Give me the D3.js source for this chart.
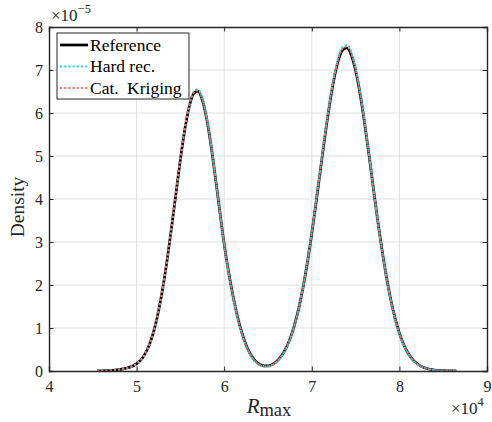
<!DOCTYPE html>
<html><head><meta charset="utf-8">
<script src="https://cdn.jsdelivr.net/npm/d3@7"></script>
<style>body{margin:0;background:#fff}</style>
</head><body><svg id="c" width="492" height="422"></svg>
<script>
// x in units of 1e4, density in units of 1e-5
const xVals = [4.55,4.60,4.65,4.70,4.75,4.80,4.85,4.90,4.95,5.00,
5.05,5.10,5.15,5.20,5.25,5.30,5.35,5.40,5.45,5.50,
5.55,5.60,5.65,5.70,5.75,5.80,5.85,5.90,5.95,6.00,
6.05,6.10,6.15,6.20,6.25,6.30,6.35,6.40,6.45,6.50,
6.55,6.60,6.65,6.70,6.75,6.80,6.85,6.90,6.95,7.00,
7.05,7.10,7.15,7.20,7.25,7.30,7.35,7.40,7.45,7.50,
7.55,7.60,7.65,7.70,7.75,7.80,7.85,7.90,7.95,8.00,
8.05,8.10,8.15,8.20,8.25,8.30,8.35,8.40,8.45,8.50,
8.55,8.60,8.65];
const refVals = [0.002,0.004,0.007,0.012,0.020,0.033,0.050,0.075,0.110,0.170,
0.260,0.410,0.635,0.956,1.390,1.941,2.602,3.351,4.142,4.921,
5.610,6.140,6.452,6.510,6.306,5.866,5.240,4.492,3.710,2.950,
2.300,1.750,1.280,0.902,0.605,0.389,0.246,0.159,0.120,0.119,
0.155,0.228,0.342,0.510,0.741,1.052,1.450,1.942,2.528,3.199,
3.932,4.700,5.456,6.159,6.756,7.202,7.461,7.512,7.351,6.991,
6.461,5.806,5.070,4.296,3.533,2.834,2.211,1.673,1.229,0.880,
0.611,0.412,0.270,0.173,0.107,0.066,0.040,0.024,0.014,0.008,
0.005,0.003,0.002];
const hardVals = [0.001,0.003,0.006,0.011,0.019,0.031,0.048,0.073,0.108,0.166,
0.256,0.402,0.628,0.950,1.385,1.938,2.604,3.360,4.158,4.942,
5.636,6.170,6.490,6.550,6.340,5.890,5.255,4.498,3.708,2.940,
2.285,1.732,1.262,0.886,0.590,0.374,0.232,0.145,0.105,0.104,
0.140,0.214,0.330,0.500,0.734,1.048,1.450,1.948,2.540,3.218,
3.958,4.734,5.498,6.208,6.812,7.266,7.532,7.590,7.420,7.048,
6.502,5.834,5.086,4.302,3.530,2.826,2.200,1.660,1.216,0.868,
0.600,0.403,0.263,0.168,0.103,0.063,0.038,0.023,0.013,0.007,
0.004,0.002,0.001];
const krigVals = [0.002,0.004,0.007,0.012,0.020,0.032,0.049,0.074,0.109,0.168,
0.258,0.406,0.631,0.952,1.387,1.939,2.602,3.354,4.148,4.930,
5.622,6.154,6.470,6.528,6.322,5.878,5.248,4.494,3.708,2.945,
2.292,1.741,1.271,0.894,0.598,0.382,0.240,0.152,0.113,0.112,
0.148,0.221,0.336,0.505,0.738,1.050,1.450,1.945,2.534,3.208,
3.945,4.716,5.476,6.182,6.782,7.232,7.494,7.548,7.384,7.018,
6.480,5.818,5.076,4.298,3.532,2.830,2.206,1.667,1.223,0.874,
0.606,0.408,0.267,0.171,0.105,0.065,0.039,0.024,0.014,0.008,
0.005,0.003,0.002];
const xTicks = [4,5,6,7,8,9];
const yTicks = [0,1,2,3,4,5,6,7,8];
const seriesNames = ["Reference","Hard rec.","Cat. Kriging"];

const FONT = "'Liberation Serif', 'Times New Roman', serif";
const svg = d3.select("#c");
const L = 49, R = 487, T = 27, B = 371;
const x = d3.scaleLinear().domain([4, 9]).range([L, R]);
const y = d3.scaleLinear().domain([0, 8]).range([B, T]);
const axisColor = "#262626";

// grid
const g = svg.append("g");
g.selectAll(".gx").data(xTicks.slice(1, -1)).enter().append("line")
  .attr("x1", d => x(d)).attr("x2", d => x(d)).attr("y1", T).attr("y2", B)
  .attr("stroke", "#dfdfdf").attr("stroke-width", 1);
g.selectAll(".gy").data(yTicks.slice(1, -1)).enter().append("line")
  .attr("y1", d => y(d)).attr("y2", d => y(d)).attr("x1", L).attr("x2", R)
  .attr("stroke", "#dfdfdf").attr("stroke-width", 1);

// curves
svg.append("defs").append("clipPath").attr("id", "clip")
  .append("rect").attr("x", L).attr("y", T).attr("width", R - L).attr("height", B - T);
const line = vals => d3.line().x((d, i) => x(xVals[i])).y(d => y(d)).curve(d3.curveMonotoneX)(vals);
const series = [
  {name: seriesNames[0], vals: refVals, color: "#000000", width: 2.7, dash: null},
  {name: seriesNames[1], vals: hardVals, color: "#1fd6d6", width: 2, dash: "2,2.2"},
  {name: seriesNames[2], vals: krigVals, color: "#ff6f6f", width: 2, dash: "2,2.2"}
];
const cg = svg.append("g").attr("clip-path", "url(#clip)");
series.forEach(s => {
  cg.append("path").attr("d", line(s.vals)).attr("fill", "none")
    .attr("stroke", s.color).attr("stroke-width", s.width)
    .attr("stroke-dasharray", s.dash);
});

// axes with inward ticks
const ax = svg.append("g");
const tickLen = 4.5;
const xAxisB = d3.axisBottom(x).tickValues(xTicks).tickSize(-tickLen).tickPadding(10).tickFormat(d3.format("d"));
const xAxisT = d3.axisTop(x).tickValues(xTicks).tickSize(-tickLen).tickFormat("");
const yAxisL = d3.axisLeft(y).tickValues(yTicks).tickSize(-tickLen).tickPadding(6).tickFormat(d3.format("d"));
const yAxisR = d3.axisRight(y).tickValues(yTicks).tickSize(-tickLen).tickFormat("");
[[xAxisB, `translate(0,${B})`], [xAxisT, `translate(0,${T})`], [yAxisL, `translate(${L},0)`], [yAxisR, `translate(${R},0)`]]
  .forEach(([a, tr]) => {
    const gg = ax.append("g").attr("transform", tr).call(a);
    gg.select(".domain").attr("stroke", axisColor).attr("stroke-width", 1.4);
    gg.selectAll(".tick line").attr("stroke", axisColor).attr("stroke-width", 1);
    gg.selectAll(".tick text").attr("fill", axisColor).style("font-family", FONT).style("font-size", "16px");
  });

// exponent labels
const e1 = svg.append("text").attr("x", 51).attr("y", 21).attr("fill", axisColor)
  .style("font-family", FONT).style("font-size", "17px");
e1.append("tspan").text("×10");
e1.append("tspan").attr("dy", -8).style("font-size", "12.5px").text("−5");
const e2 = svg.append("text").attr("x", 451).attr("y", 414).attr("fill", axisColor)
  .style("font-family", FONT).style("font-size", "17px");
e2.append("tspan").text("×10");
e2.append("tspan").attr("dy", -8).style("font-size", "12.5px").text("4");

// axis titles
const xl = svg.append("text").attr("x", 269).attr("y", 413).attr("text-anchor", "middle")
  .attr("fill", axisColor).style("font-family", FONT).style("font-size", "21px");
xl.append("tspan").style("font-style", "italic").text("R");
xl.append("tspan").attr("dy", 3).style("font-size", "18.5px").text("max");
svg.append("text").attr("transform", "translate(24,207) rotate(-90)").attr("text-anchor", "middle")
  .attr("fill", axisColor).style("font-family", FONT).style("font-size", "19.5px").text("Density");

// legend
const lg = svg.append("g");
lg.append("rect").attr("x", 57).attr("y", 33).attr("width", 132).attr("height", 66)
  .attr("fill", "#fff").attr("stroke", axisColor).attr("stroke-width", 1);
const rowsY = [45, 66.5, 88];
series.forEach((s, i) => {
  lg.append("line").attr("x1", 60).attr("x2", 88).attr("y1", rowsY[i]).attr("y2", rowsY[i])
    .attr("stroke", s.color).attr("stroke-width", s.width).attr("stroke-dasharray", s.dash);
  lg.append("text").attr("x", 90).attr("y", rowsY[i] + 5.5).attr("fill", "#000")
    .style("font-family", FONT).style("font-size", "17.5px")
    .style("word-spacing", s.name.includes(". ") ? "4px" : "0px").text(s.name);
});
</script>
</body></html>
